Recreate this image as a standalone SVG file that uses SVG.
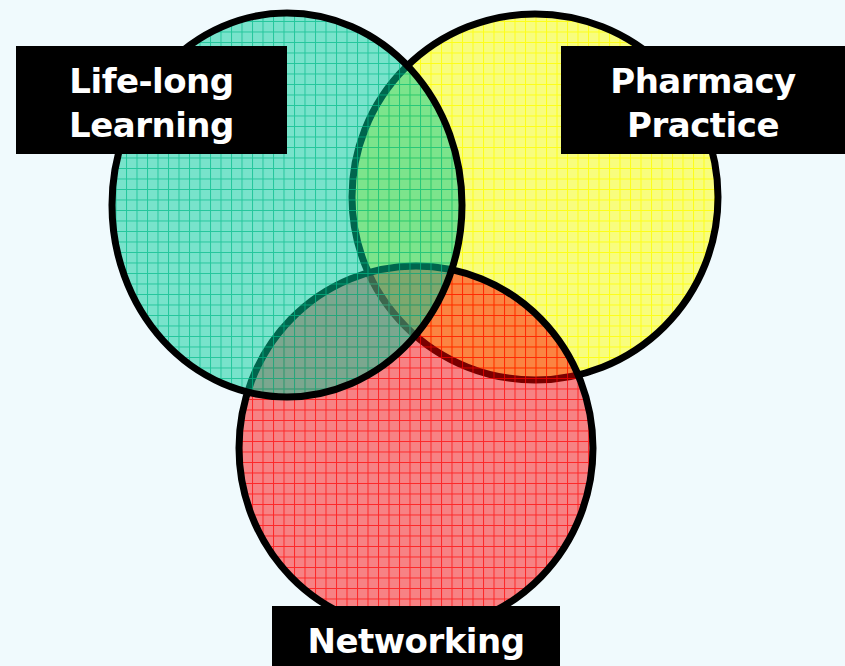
<svg xmlns="http://www.w3.org/2000/svg" width="845" height="666" viewBox="0 0 845 666">
<style>
.ring{stroke:#000;stroke-width:7}
.box{fill:#000}
.lbl{fill:#fff;font-family:"DejaVu Sans","Noto Sans",sans-serif;font-weight:bold;font-size:34px;letter-spacing:-0.5px;text-anchor:middle}
</style>
<defs>
<pattern id="pY" patternUnits="userSpaceOnUse" width="10.5" height="10.5">
<rect width="10.5" height="10.5" fill="#ffff00" fill-opacity="0.5"/>
<path d="M0 0.5H10.5M0.5 0V10.5" stroke="#ffff00" stroke-width="1" stroke-opacity="0.8"/>
</pattern>
<pattern id="pR" patternUnits="userSpaceOnUse" width="10.5" height="10.5">
<rect width="10.5" height="10.5" fill="#ff0000" fill-opacity="0.48"/>
<path d="M0 0.5H10.5M0.5 0V10.5" stroke="#ff0000" stroke-width="1" stroke-opacity="0.7"/>
</pattern>
<pattern id="pG" patternUnits="userSpaceOnUse" width="10.5" height="10.5">
<rect width="10.5" height="10.5" fill="#00cc99" fill-opacity="0.5"/>
<path d="M0 0.5H10.5M0.5 0V10.5" stroke="#00bb88" stroke-width="1" stroke-opacity="0.7"/>
</pattern>
</defs>
<rect width="845" height="666" fill="#f0fafd"/>
<g id="pharmacy-practice">
<ellipse class="ring" cx="535" cy="197" rx="183" ry="183" fill="url(#pY)"/>
<rect class="box" x="561" y="46" width="284" height="108"/>
<text class="lbl"><tspan x="703" y="93">Pharmacy</tspan><tspan x="703" y="137">Practice</tspan></text>
</g>
<g id="networking">
<ellipse class="ring" cx="416" cy="448" rx="177" ry="182" fill="url(#pR)"/>
<rect class="box" x="272" y="606" width="288" height="60"/>
<text class="lbl" x="416" y="653">Networking</text>
</g>
<g id="life-long-learning">
<ellipse class="ring" cx="287" cy="205" rx="175" ry="192" fill="url(#pG)"/>
<rect class="box" x="16" y="46" width="271" height="108"/>
<text class="lbl"><tspan x="151.5" y="93">Life-long</tspan><tspan x="151.5" y="137">Learning</tspan></text>
</g>
</svg>
